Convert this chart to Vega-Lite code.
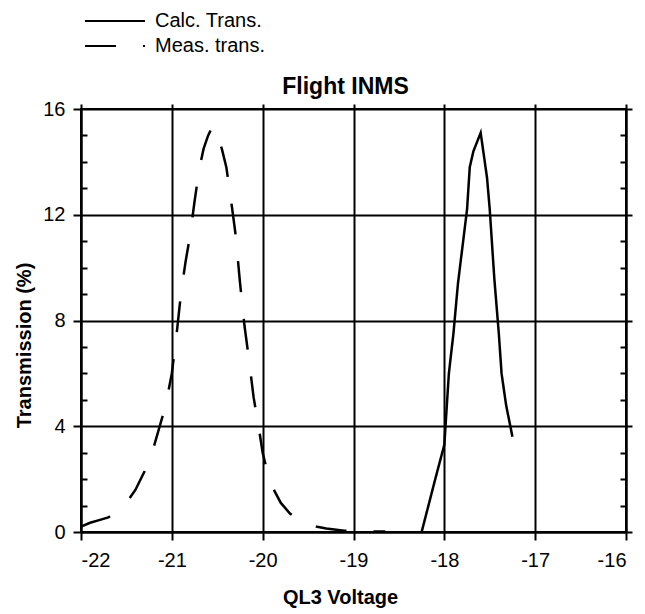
{
  "$schema": "https://vega.github.io/schema/vega-lite/v6.json",
  "autosize": "none",
  "width": 545,
  "height": 423,
  "padding": {"left": 81, "top": 109, "right": 19, "bottom": 82},
  "background": "white",
  "config": {
    "view": {"stroke": "black", "strokeWidth": 2},
    "font": "Liberation Sans",
    "axis": {"domainColor": "black", "domainWidth": 2, "tickColor": "black", "tickWidth": 2, "gridColor": "black", "gridWidth": 2, "gridOpacity": 1, "labelColor": "black", "titleColor": "black", "labelFont": "Liberation Sans", "titleFont": "Liberation Sans", "labelFontSize": 20, "titleFontSize": 20, "titleFontWeight": "bold"}
  },
  "title": {"text": "Flight INMS", "fontSize": 23, "fontWeight": "bold", "font": "Liberation Sans", "color": "black", "offset": -88, "dx": -8},
  "data": {"values": [
    {"s": "Meas. trans.", "v": -22.0, "t": 0.2},
    {"s": "Meas. trans.", "v": -21.9, "t": 0.35},
    {"s": "Meas. trans.", "v": -21.8, "t": 0.45},
    {"s": "Meas. trans.", "v": -21.7, "t": 0.55},
    {"s": "Meas. trans.", "v": -21.6, "t": 0.8},
    {"s": "Meas. trans.", "v": -21.5, "t": 1.1},
    {"s": "Meas. trans.", "v": -21.4, "t": 1.6},
    {"s": "Meas. trans.", "v": -21.3, "t": 2.3},
    {"s": "Meas. trans.", "v": -21.2, "t": 3.2},
    {"s": "Meas. trans.", "v": -21.1, "t": 4.4},
    {"s": "Meas. trans.", "v": -21.05, "t": 5.1},
    {"s": "Meas. trans.", "v": -21.0, "t": 6.0},
    {"s": "Meas. trans.", "v": -20.95, "t": 7.4},
    {"s": "Meas. trans.", "v": -20.9, "t": 9.0},
    {"s": "Meas. trans.", "v": -20.85, "t": 10.2},
    {"s": "Meas. trans.", "v": -20.8, "t": 11.2},
    {"s": "Meas. trans.", "v": -20.75, "t": 12.5},
    {"s": "Meas. trans.", "v": -20.7, "t": 13.7},
    {"s": "Meas. trans.", "v": -20.65, "t": 14.5},
    {"s": "Meas. trans.", "v": -20.6, "t": 15.0},
    {"s": "Meas. trans.", "v": -20.55, "t": 15.35},
    {"s": "Meas. trans.", "v": -20.5, "t": 15.0},
    {"s": "Meas. trans.", "v": -20.45, "t": 14.5},
    {"s": "Meas. trans.", "v": -20.4, "t": 13.8},
    {"s": "Meas. trans.", "v": -20.35, "t": 12.6},
    {"s": "Meas. trans.", "v": -20.3, "t": 11.3},
    {"s": "Meas. trans.", "v": -20.25, "t": 9.45},
    {"s": "Meas. trans.", "v": -20.2, "t": 7.8},
    {"s": "Meas. trans.", "v": -20.15, "t": 6.5},
    {"s": "Meas. trans.", "v": -20.1, "t": 5.1},
    {"s": "Meas. trans.", "v": -20.05, "t": 4.1},
    {"s": "Meas. trans.", "v": -20.0, "t": 3.0},
    {"s": "Meas. trans.", "v": -19.95, "t": 2.3},
    {"s": "Meas. trans.", "v": -19.9, "t": 1.75},
    {"s": "Meas. trans.", "v": -19.8, "t": 1.1},
    {"s": "Meas. trans.", "v": -19.7, "t": 0.7},
    {"s": "Meas. trans.", "v": -19.6, "t": 0.45},
    {"s": "Meas. trans.", "v": -19.5, "t": 0.3},
    {"s": "Meas. trans.", "v": -19.4, "t": 0.2},
    {"s": "Meas. trans.", "v": -19.3, "t": 0.13},
    {"s": "Meas. trans.", "v": -19.1, "t": 0.05},
    {"s": "Meas. trans.", "v": -18.9, "t": 0.02},
    {"s": "Meas. trans.", "v": -18.65, "t": 0.02},
    {"s": "Calc. Trans.", "v": -18.25, "t": 0},
    {"s": "Calc. Trans.", "v": -18.1, "t": 2.0},
    {"s": "Calc. Trans.", "v": -18.0, "t": 3.3},
    {"s": "Calc. Trans.", "v": -17.95, "t": 6.0},
    {"s": "Calc. Trans.", "v": -17.9, "t": 7.5},
    {"s": "Calc. Trans.", "v": -17.85, "t": 9.4},
    {"s": "Calc. Trans.", "v": -17.8, "t": 10.8},
    {"s": "Calc. Trans.", "v": -17.75, "t": 12.2},
    {"s": "Calc. Trans.", "v": -17.72, "t": 13.8},
    {"s": "Calc. Trans.", "v": -17.68, "t": 14.4},
    {"s": "Calc. Trans.", "v": -17.6, "t": 15.1},
    {"s": "Calc. Trans.", "v": -17.53, "t": 13.4},
    {"s": "Calc. Trans.", "v": -17.5, "t": 12.2},
    {"s": "Calc. Trans.", "v": -17.45, "t": 9.6},
    {"s": "Calc. Trans.", "v": -17.4, "t": 7.5},
    {"s": "Calc. Trans.", "v": -17.37, "t": 6.0},
    {"s": "Calc. Trans.", "v": -17.32, "t": 4.8},
    {"s": "Calc. Trans.", "v": -17.25, "t": 3.6}
  ]},
  "layer": [
    {
      "mark": {"type": "line", "color": "black", "strokeWidth": 2.5},
      "encoding": {
        "x": {"field": "v", "type": "quantitative", "title": "QL3 Voltage",
          "scale": {"domain": [-22, -16], "nice": false, "zero": false},
          "axis": {"orient": "bottom", "values": [-22, -21, -20, -19, -18, -17, -16], "labelExpr": "'' + datum.value", "tickSize": 8, "labelPadding": 10, "grid": true, "titleX": 259, "titleY": 65, "titleBaseline": "middle"}},
        "y": {"field": "t", "type": "quantitative", "title": "Transmission (%)",
          "scale": {"domain": [0, 16], "nice": false},
          "axis": {"orient": "left", "values": [0,1,2,3,4,5,6,7,8,9,10,11,12,13,14,15,16],
            "labelExpr": "datum.value % 4 === 0 ? datum.label : ''",
            "tickSize": {"condition": {"test": "datum.value % 4 === 0", "value": 8}, "value": -6},
            "gridOpacity": {"condition": {"test": "datum.value % 4 === 0", "value": 1}, "value": 0},
            "grid": true, "labelPadding": 8, "titleX": -57, "titleY": 236, "titleBaseline": "middle"}},
        "strokeDash": {"field": "s", "type": "nominal",
          "scale": {"domain": ["Calc. Trans.", "Meas. trans."], "range": [[1, 0], [31, 27]]},
          "legend": {"orient": "none", "legendX": 24, "legendY": -98, "title": null, "symbolType": "M-6,0H6", "symbolSize": 100, "symbolStrokeWidth": 2, "symbolStrokeColor": "black", "labelFontSize": 20, "labelFont": "Liberation Sans", "labelColor": "black", "labelOffset": 30, "rowPadding": 5}}
      }
    },
    {
      "mark": {"type": "line", "opacity": 0},
      "encoding": {
        "x": {"field": "v", "type": "quantitative", "scale": {"domain": [-22, -16], "nice": false, "zero": false},
          "axis": {"orient": "top", "values": [-22, -21, -20, -19, -18, -17, -16], "labels": false, "grid": false, "domain": false, "tickSize": 5, "title": null}},
        "y": {"field": "t", "type": "quantitative", "title": null,
          "scale": {"domain": [0, 16], "nice": false},
          "axis": {"orient": "right", "values": [0,1,2,3,4,5,6,7,8,9,10,11,12,13,14,15,16],
            "labels": false, "grid": false,
            "tickSize": {"condition": {"test": "datum.value % 4 === 0", "value": 6}, "value": -6}}}
      }
    }
  ],
  "resolve": {"axis": {"y": "independent", "x": "independent"}}
}
